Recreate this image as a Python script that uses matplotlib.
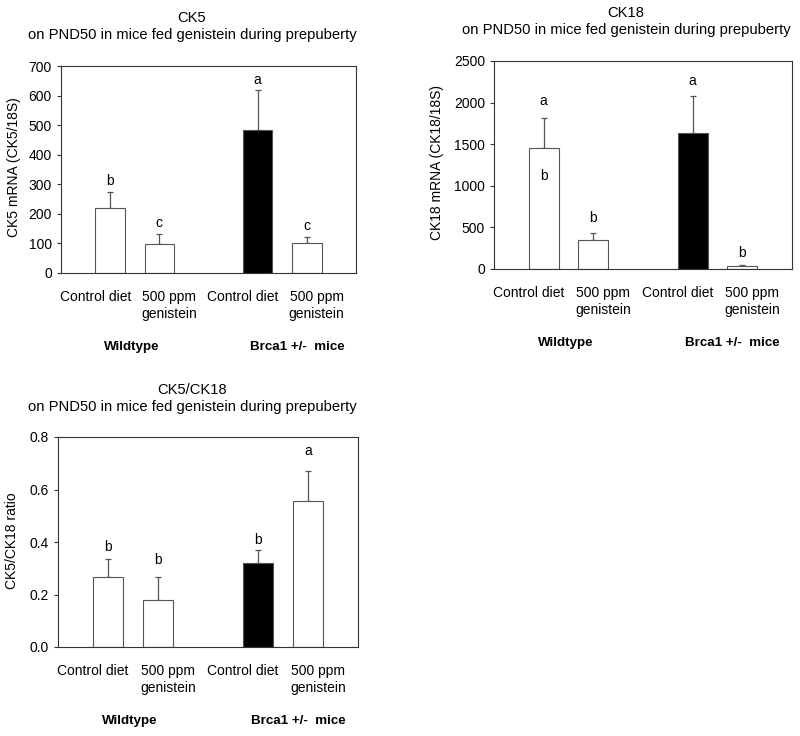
import matplotlib
matplotlib.use("Agg")
import matplotlib.pyplot as plt
from matplotlib.ticker import FormatStrFormatter

plt.rcParams["font.family"] = ["Liberation Sans", "DejaVu Sans"]

W, H = 800, 736

# ------------------------------------------------------------------ data
positions = [1, 2, 4, 5]
bar_colors = ["white", "white", "black", "white"]

ck5_mean = [220, 98, 485, 100]
ck5_err = [55, 35, 134, 22]
ck5_letters = [("b", 1, 310), ("c", 2, 170), ("a", 4, 654), ("c", 5, 160)]

ck18_mean = [1455, 345, 1640, 40]
ck18_err = [365, 87, 440, 8]
ck18_letters = [("a", 1, 2020), ("b", 1, 1123), ("b", 2, 612),
                ("a", 4, 2260), ("b", 5, 192)]

ratio_mean = [0.267, 0.178, 0.321, 0.558]
ratio_err = [0.069, 0.087, 0.050, 0.111]
ratio_letters = [("b", 1, 0.382), ("b", 2, 0.331), ("b", 4, 0.408), ("a", 5, 0.745)]

diet_labels = ["Control diet", "500 ppm", "Control diet", "500 ppm"]
diet_x = [0.7, 2.2, 3.7, 5.2]
group_labels = ["Wildtype", "Brca1 +/-  mice"]
group_x = [1.44, 4.8]
subtitle = "on PND50 in mice fed genistein during prepuberty"


def px_rect(left, right, top, bottom):
    return [left / W, 1 - bottom / H, (right - left) / W, (bottom - top) / H]


def panel(fig, rect, means, errs, letters, ymax, ystep, ylabel, ylab_xy,
          title, title_xy, fmt=None):
    ax = fig.add_axes(px_rect(*rect))
    ax.bar(positions, means, width=0.6, color=bar_colors,
           edgecolor="#555555", linewidth=0.8, zorder=2)
    # upper error bars only
    ax.errorbar(positions, means, yerr=[[0] * len(errs), errs], fmt="none",
                ecolor="#555555", elinewidth=0.9, capsize=2.5, capthick=0.9,
                zorder=1)
    for txt, x, y in letters:
        ax.text(x, y, txt, ha="center", va="center", fontsize=10)
    ax.set_xlim(0, 6)
    ax.set_ylim(0, ymax)
    ax.set_yticks([ystep * i for i in range(int(round(ymax / ystep)) + 1)])
    if fmt:
        ax.yaxis.set_major_formatter(FormatStrFormatter(fmt))
    ax.set_xticks([])
    ax.tick_params(axis="y", labelsize=10, length=3, width=0.8, color="#333333")
    for s in ax.spines.values():
        s.set_color("#333333")
        s.set_linewidth(0.8)

    tr = ("data", "axes fraction")
    for lbl, x in zip(diet_labels, diet_x):
        ax.annotate(lbl, xy=(x, 0), xycoords=tr, xytext=(0, -24),
                    textcoords="offset pixels", ha="center", va="center",
                    fontsize=10)
    for x in diet_x[1::2]:
        ax.annotate("genistein", xy=(x, 0), xycoords=tr, xytext=(0, -41),
                    textcoords="offset pixels", ha="center", va="center",
                    fontsize=10)
    for lbl, x in zip(group_labels, group_x):
        ax.annotate(lbl, xy=(x, 0), xycoords=tr, xytext=(0, -74),
                    textcoords="offset pixels", ha="center", va="center",
                    fontsize=9.6, fontweight="bold")

    fig.text(ylab_xy[0] / W, 1 - ylab_xy[1] / H, ylabel, rotation=90,
             ha="center", va="center", fontsize=10)
    tx, ty = title_xy
    fig.text(tx / W, 1 - ty / H, title, ha="center", va="center", fontsize=10.6)
    fig.text(tx / W, 1 - (ty + 17) / H, subtitle, ha="center", va="center",
             fontsize=10.6)
    return ax


fig = plt.figure(figsize=(W / 100, H / 100), dpi=100)

panel(fig, (61, 356, 66, 273), ck5_mean, ck5_err, ck5_letters, 700, 100,
      "CK5 mRNA (CK5/18S)", (14, 167), "CK5", (192, 18))
panel(fig, (494, 792, 61, 269), ck18_mean, ck18_err, ck18_letters, 2500, 500,
      "CK18 mRNA (CK18/18S)", (437, 163), "CK18", (626, 13))
panel(fig, (58, 358, 437, 647), ratio_mean, ratio_err, ratio_letters, 0.8, 0.2,
      "CK5/CK18 ratio", (12, 541), "CK5/CK18", (192, 390), fmt="%.1f")

fig.savefig("out.png", dpi=100)
